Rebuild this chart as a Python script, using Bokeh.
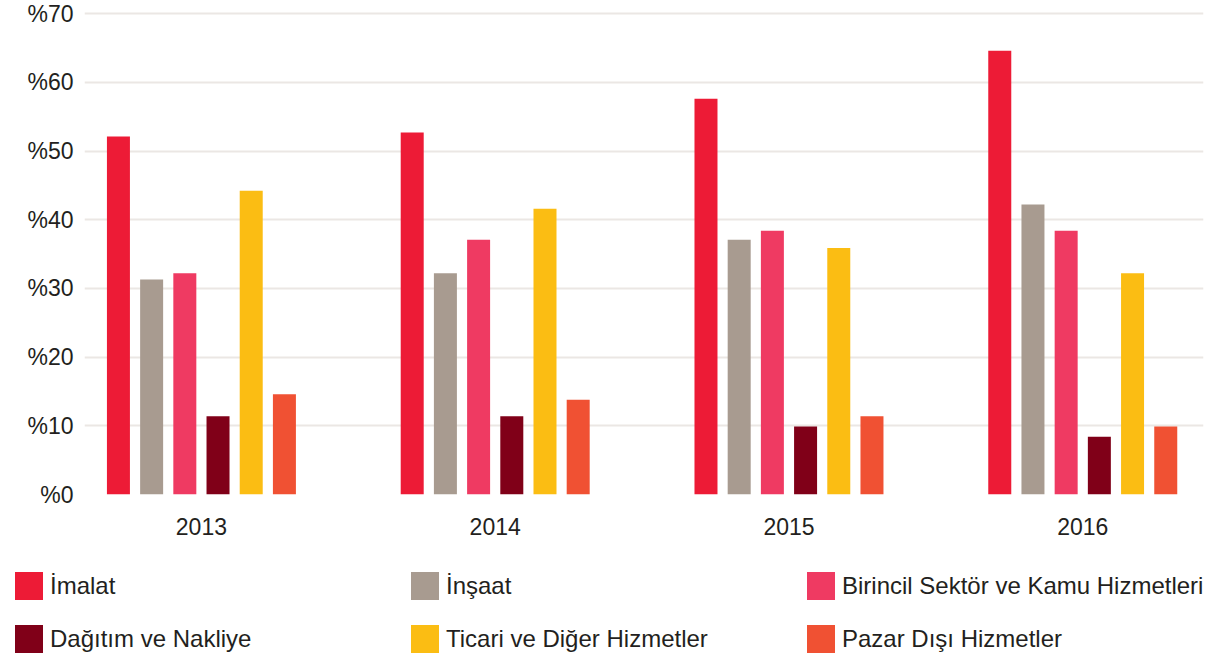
from bokeh.plotting import figure
from bokeh.models import Range1d, FixedTicker, Legend, LegendItem, ColumnDataSource
from bokeh.embed import file_html
from bokeh.resources import INLINE

# ---- data ----
years = [2013, 2014, 2015, 2016]
year_labels = ["2013", "2014", "2015", "2016"]
series_names = [
    "İmalat",
    "İnşaat",
    "Birincil Sektör ve Kamu Hizmetleri",
    "Dağıtım ve Nakliye",
    "Ticari ve Diğer Hizmetler",
    "Pazar Dışı Hizmetler",
]
imalat = [52.1, 52.7, 57.6, 64.6]
insaat = [31.3, 32.2, 37.1, 42.2]
birincil = [32.2, 37.1, 38.4, 38.4]
dagitim = [11.4, 11.4, 9.9, 8.4]
ticari = [44.2, 41.6, 35.9, 32.2]
pazar = [14.6, 13.8, 11.4, 9.9]
y_ticks = [0, 10, 20, 30, 40, 50, 60, 70]
y_tick_labels = ["%0", "%10", "%20", "%30", "%40", "%50", "%60", "%70"]

colors = ["#ed1b36", "#a89b90", "#ef3a62", "#800018", "#fbbd13", "#f05133"]
all_values = [imalat, insaat, birincil, dagitim, ticari, pazar]

FONT = "Liberation Sans"
TEXT = "#231f20"

# ---- main chart ----
p = figure(
    width=1227, height=560,
    x_range=Range1d(2012.602, 2016.411),
    y_range=Range1d(0, 70.6),
    output_backend="svg", toolbar_location=None,
    min_border_left=84, min_border_right=24,
    min_border_top=9, min_border_bottom=66,
)
p.outline_line_color = None
p.background_fill_color = "white"
p.border_fill_color = "white"

# ---- legend strip (same series, legend only; its frame shows no data) ----
lg = figure(
    width=1227, height=95,
    x_range=Range1d(0, 1), y_range=Range1d(0, 1),
    output_backend="svg", toolbar_location=None,
    x_axis_type=None, y_axis_type=None,
    min_border_left=0, min_border_right=0,
    min_border_top=0, min_border_bottom=0,
)
lg.outline_line_color = None
lg.grid.visible = False

pitch = 0.113
bw = 0.0783
items = []
for i, (name, vals, col) in enumerate(zip(series_names, all_values, colors)):
    off = (i - 2.5) * pitch
    src = ColumnDataSource(dict(x=[y + off for y in years], top=vals))
    p.vbar(x="x", top="top", bottom=0, width=bw, source=src,
           fill_color=col, line_color=None)
    r2 = lg.vbar(x="x", top="top", bottom=0, width=bw, source=src,
                 fill_color=col, line_color=None)
    items.append(LegendItem(label=name, renderers=[r2]))

# axes
p.xaxis.ticker = FixedTicker(ticks=years)
p.xaxis.major_label_overrides = {y: l for y, l in zip(years, year_labels)}
p.yaxis.ticker = FixedTicker(ticks=y_ticks)
p.yaxis.major_label_overrides = {t: l for t, l in zip(y_ticks, y_tick_labels)}
for ax in (p.xaxis[0], p.yaxis[0]):
    ax.axis_line_color = None
    ax.major_tick_line_color = None
    ax.minor_tick_line_color = None
    ax.major_tick_out = 0
    ax.major_tick_in = 0
    ax.major_label_text_font = FONT
    ax.major_label_text_font_size = "23px"
    ax.major_label_text_color = TEXT
p.xaxis.major_label_standoff = 23
p.yaxis.major_label_standoff = 11

p.xgrid.grid_line_color = None
p.ygrid.ticker = FixedTicker(ticks=y_ticks)
p.ygrid.grid_line_color = "#ebe7e4"
p.ygrid.grid_line_width = 2

legend = Legend(
    items=items,
    location=(11, -1),
    orientation="horizontal",
    ncols=3,
    glyph_width=35, glyph_height=35,
    label_standoff=4, label_width=339, label_height=35,
    spacing=18, padding=0, margin=0,
    border_line_color=None, background_fill_alpha=0,
    label_text_font=FONT, label_text_font_size="24px",
    label_text_color=TEXT,
)
lg.add_layout(legend, "center")

open("out.html", "w").write(file_html([p, lg], INLINE))
